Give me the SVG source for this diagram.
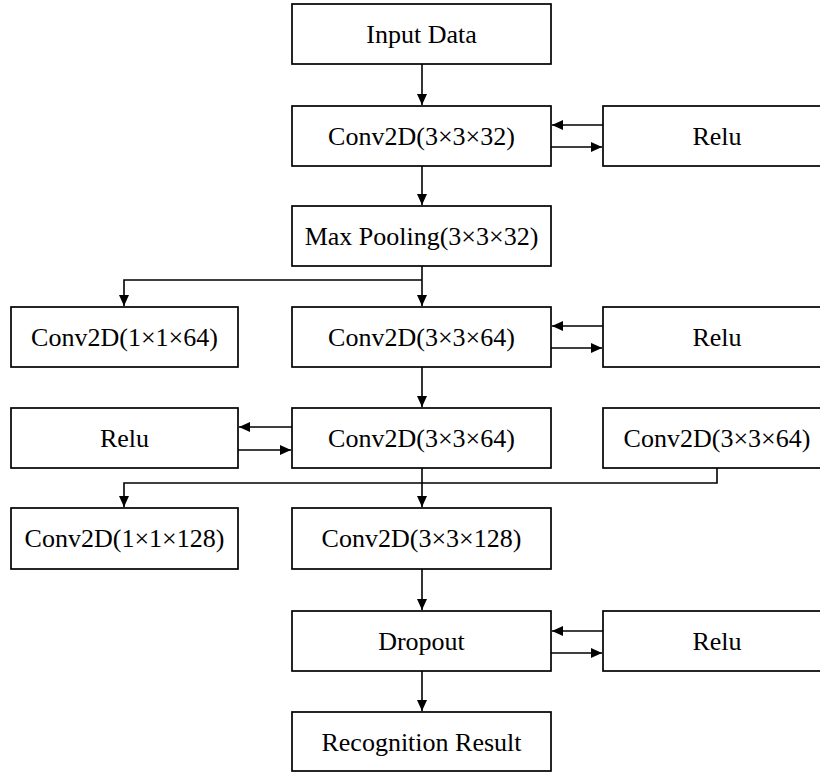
<svg xmlns="http://www.w3.org/2000/svg" width="820" height="774" viewBox="0 0 820 774">
<style>
.box{fill:#fff;stroke:#000;stroke-width:1.7}
.lbl{font-family:"Liberation Serif","Times New Roman",serif;font-size:26px;fill:#000;text-anchor:middle}
.con{fill:none;stroke:#000;stroke-width:1.6}
</style>
<defs>
<marker id="ah" markerUnits="userSpaceOnUse" markerWidth="12" markerHeight="10" refX="11" refY="5" orient="auto">
<path d="M0,0 L11,5 L0,10 z" fill="#000"/>
</marker>
</defs>
<rect width="820" height="774" fill="#fff"/>
<g id="connectors">
<path class="con" d="M422,64 V105" marker-end="url(#ah)"/>
<path class="con" d="M603,125 H552" marker-end="url(#ah)"/>
<path class="con" d="M551,147 H602" marker-end="url(#ah)"/>
<path class="con" d="M422,166 V205" marker-end="url(#ah)"/>
<path class="con" d="M422,266 V306" marker-end="url(#ah)"/>
<path class="con" d="M422,280 H124 V306" marker-end="url(#ah)"/>
<path class="con" d="M603,326 H552" marker-end="url(#ah)"/>
<path class="con" d="M551,348 H602" marker-end="url(#ah)"/>
<path class="con" d="M422,367 V407" marker-end="url(#ah)"/>
<path class="con" d="M292,427 H239" marker-end="url(#ah)"/>
<path class="con" d="M238,450 H291" marker-end="url(#ah)"/>
<path class="con" d="M422,468 V507" marker-end="url(#ah)"/>
<path class="con" d="M717,468 V483 H124 V507" marker-end="url(#ah)"/>
<path class="con" d="M422,569 V610" marker-end="url(#ah)"/>
<path class="con" d="M603,631 H552" marker-end="url(#ah)"/>
<path class="con" d="M551,653 H602" marker-end="url(#ah)"/>
<path class="con" d="M422,671 V711" marker-end="url(#ah)"/>
</g>
<g id="input"><rect class="box" x="292" y="4" width="259" height="60"/><text class="lbl" x="421.5" y="43">Input Data</text></g>
<g id="conv1"><rect class="box" x="292" y="106" width="259" height="60"/><text class="lbl" x="421.5" y="145">Conv2D(3×3×32)</text></g>
<g id="relu1"><rect class="box" x="603" y="106" width="229" height="60"/><text class="lbl" x="717" y="145">Relu</text></g>
<g id="pool"><rect class="box" x="292" y="206" width="259" height="60"/><text class="lbl" x="421.5" y="245">Max Pooling(3×3×32)</text></g>
<g id="conv1x1_64"><rect class="box" x="11" y="307" width="227" height="60"/><text class="lbl" x="124.5" y="346">Conv2D(1×1×64)</text></g>
<g id="conv2"><rect class="box" x="292" y="307" width="259" height="60"/><text class="lbl" x="421.5" y="346">Conv2D(3×3×64)</text></g>
<g id="relu2"><rect class="box" x="603" y="307" width="229" height="60"/><text class="lbl" x="717" y="346">Relu</text></g>
<g id="relu3"><rect class="box" x="11" y="408" width="227" height="60"/><text class="lbl" x="124.5" y="447">Relu</text></g>
<g id="conv3"><rect class="box" x="292" y="408" width="259" height="60"/><text class="lbl" x="421.5" y="447">Conv2D(3×3×64)</text></g>
<g id="conv_right"><rect class="box" x="603" y="408" width="229" height="60"/><text class="lbl" x="717" y="447">Conv2D(3×3×64)</text></g>
<g id="conv1x1_128"><rect class="box" x="11" y="508" width="227" height="61"/><text class="lbl" x="124.5" y="547">Conv2D(1×1×128)</text></g>
<g id="conv4"><rect class="box" x="292" y="508" width="259" height="61"/><text class="lbl" x="421.5" y="547">Conv2D(3×3×128)</text></g>
<g id="dropout"><rect class="box" x="292" y="611" width="259" height="60"/><text class="lbl" x="421.5" y="650">Dropout</text></g>
<g id="relu4"><rect class="box" x="603" y="611" width="229" height="60"/><text class="lbl" x="717" y="650">Relu</text></g>
<g id="result"><rect class="box" x="292" y="712" width="259" height="59"/><text class="lbl" x="421.5" y="751">Recognition Result</text></g>
</svg>
